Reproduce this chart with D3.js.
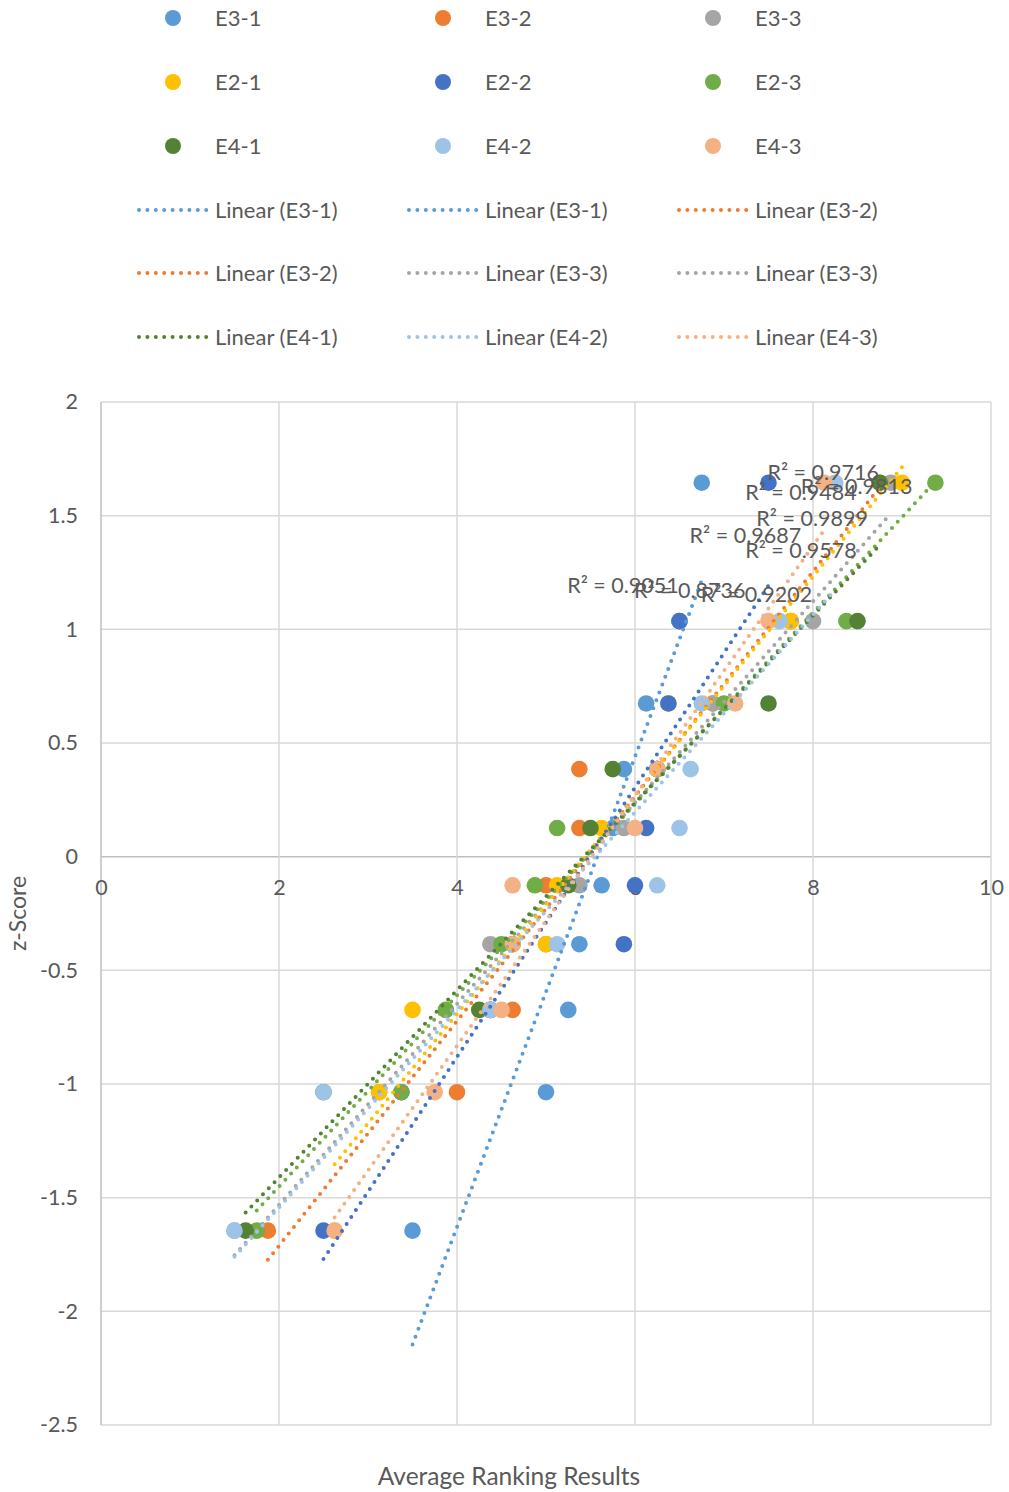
<!DOCTYPE html>
<html>
<head>
<meta charset="utf-8">
<script src="https://cdn.jsdelivr.net/npm/d3@7"></script>
<style>
  html, body { margin: 0; padding: 0; background: #ffffff; }
  svg { display: block; }
  text { font-family: Lato, "Open Sans", sans-serif; fill: #595959; }
</style>
</head>
<body>
<svg id="chart" width="1009" height="1492"></svg>
<script>
// z-scores shared by every series (normal quantiles for 10 ranks)
const zScores = [1.645, 1.036, 0.674, 0.385, 0.126, -0.126, -0.385, -0.674, -1.036, -1.645];

// Average ranking results per series, in the order of zScores
const e3_1 = [6.75, 6.5, 6.125, 5.875, 5.75, 5.625, 5.375, 5.25, 5.0, 3.5];
const e3_2 = [8.75, 7.75, 6.875, 5.375, 5.375, 5.0, 5.0, 4.625, 4.0, 1.875];
const e3_3 = [8.875, 8.0, 6.875, 6.25, 5.875, 5.375, 4.375, 4.375, 3.125, 1.5];
const e2_1 = [9.0, 7.75, 6.375, 6.25, 5.625, 5.125, 5.0, 3.5, 3.125, 2.625];
const e2_2 = [7.5, 6.5, 6.375, 6.25, 6.125, 6.0, 5.875, 4.375, 3.375, 2.5];
const e2_3 = [9.375, 8.375, 7.0, 6.25, 5.125, 4.875, 4.5, 3.875, 3.375, 1.75];
const e4_1 = [8.75, 8.5, 7.5, 5.75, 5.5, 5.25, 4.625, 4.25, 2.5, 1.625];
const e4_2 = [8.25, 7.625, 6.75, 6.625, 6.5, 6.25, 5.125, 4.375, 2.5, 1.5];
const e4_3 = [8.125, 7.5, 7.125, 6.25, 6.0, 4.625, 4.625, 4.5, 3.75, 2.625];

const seriesNames = ["E3-1", "E3-2", "E3-3", "E2-1", "E2-2", "E2-3", "E4-1", "E4-2", "E4-3"];
const seriesValues = [e3_1, e3_2, e3_3, e2_1, e2_2, e2_3, e4_1, e4_2, e4_3];
const seriesColors = ["#5B9BD5", "#ED7D31", "#A5A5A5", "#FFC000", "#4472C4", "#70AD47", "#548235", "#9DC3E6", "#F4B183"];

// Coefficient of determination shown for each trendline
const rSquared = [0.9051, 0.9484, 0.9899, 0.9716, 0.8736, 0.9813, 0.9578, 0.9202, 0.9687];

// Trendline legend entries as they are named in the workbook
const trendLegendNames = ["Linear (E3-1)", "Linear (E3-1)", "Linear (E3-2)",
                          "Linear (E3-2)", "Linear (E3-3)", "Linear (E3-3)",
                          "Linear (E4-1)", "Linear (E4-2)", "Linear (E4-3)"];
const trendLegendColors = ["#5B9BD5", "#5B9BD5", "#ED7D31",
                           "#ED7D31", "#A5A5A5", "#A5A5A5",
                           "#548235", "#9DC3E6", "#F4B183"];

const xTicks = [0, 2, 4, 6, 8, 10];
const yTicks = [2, 1.5, 1, 0.5, 0, -0.5, -1, -1.5, -2, -2.5];
const xTitle = "Average Ranking Results";
const yTitle = "z-Score";

// ---- layout ----
const plot = { left: 101, right: 991, top: 402, bottom: 1425 };
const svg = d3.select("#chart");

const x = d3.scaleLinear().domain([0, 10]).range([plot.left, plot.right]);
const y = d3.scaleLinear().domain([-2.5, 2]).range([plot.bottom, plot.top]);

// gridlines
const grid = svg.append("g");
grid.selectAll("line.h").data(yTicks).join("line")
  .attr("x1", plot.left).attr("x2", plot.right)
  .attr("y1", d => y(d)).attr("y2", d => y(d))
  .attr("stroke", d => d === 0 ? "#bfbfbf" : "#d9d9d9")
  .attr("stroke-width", 1.5);
grid.selectAll("line.v").data(xTicks).join("line")
  .attr("x1", d => x(d)).attr("x2", d => x(d))
  .attr("y1", plot.top).attr("y2", plot.bottom)
  .attr("stroke", d => d === 0 ? "#bfbfbf" : "#d9d9d9")
  .attr("stroke-width", 1.5);

// axes (labels only; the lines come from the grid)
const yAxis = d3.axisLeft(y).tickValues(yTicks).tickSize(0).tickPadding(23).tickFormat(d => String(d));
svg.append("g").attr("transform", `translate(${plot.left},0)`).call(yAxis)
  .call(g => g.select(".domain").remove())
  .selectAll("text").style("font-size", "21.5px").attr("fill", "#595959").style("font-family", "Lato, sans-serif");

const xAxis = d3.axisBottom(x).tickValues(xTicks).tickSize(0).tickPadding(23).tickFormat(d => String(d));
svg.append("g").attr("transform", `translate(0,${y(0)})`).call(xAxis)
  .call(g => g.select(".domain").remove())
  .selectAll("text").style("font-size", "21.5px").attr("fill", "#595959").style("font-family", "Lato, sans-serif");

// axis titles
svg.append("text").attr("x", 509).attr("y", 1485)
  .attr("text-anchor", "middle").style("font-size", "24.5px").text(xTitle);
svg.append("text")
  .attr("transform", `translate(26,${(plot.top + plot.bottom) / 2}) rotate(-90)`)
  .attr("text-anchor", "middle").style("font-size", "23px").text(yTitle);

// ---- data ----
const series = seriesNames.map((name, i) => ({
  name,
  color: seriesColors[i],
  r2: rSquared[i],
  points: seriesValues[i].map((v, j) => ({ x: v, z: zScores[j] }))
}));

// least-squares fit of z on x
function fit(points) {
  const mx = d3.mean(points, p => p.x), mz = d3.mean(points, p => p.z);
  const sxz = d3.sum(points, p => (p.x - mx) * (p.z - mz));
  const sxx = d3.sum(points, p => (p.x - mx) * (p.x - mx));
  const b = sxz / sxx, a = mz - b * mx;
  const [x0, x1] = d3.extent(points, p => p.x);
  return { a, b, x0, x1 };
}
series.forEach(s => { s.fit = fit(s.points); });

// markers
const marks = svg.append("g");
series.forEach(s => {
  marks.append("g").selectAll("circle").data(s.points).join("circle")
    .attr("cx", p => x(p.x)).attr("cy", p => y(p.z)).attr("r", 8.3)
    .attr("fill", s.color);
});

// dotted trendlines
const lines = svg.append("g");
const line = d3.line().x(p => x(p[0])).y(p => y(p[1]));
series.forEach(s => {
  const f = s.fit;
  lines.append("path")
    .attr("d", line([[f.x0, f.a + f.b * f.x0], [f.x1, f.a + f.b * f.x1]]))
    .attr("fill", "none").attr("stroke", s.color)
    .attr("stroke-width", 4).attr("stroke-linecap", "round")
    .attr("stroke-dasharray", "0 8.4");
});

// R² labels next to the upper end of each trendline
const labels = svg.append("g");
series.forEach(s => {
  const f = s.fit;
  labels.append("text")
    .attr("x", x(f.x1) - 23).attr("y", y(f.a + f.b * f.x1) + 5)
    .attr("dy", "0.35em").attr("text-anchor", "end")
    .style("font-size", "21.5px")
    .text(`R² = ${s.r2.toFixed(4)}`);
});

// ---- legend ----
const legCols = [137, 407, 677];
const legRowY = [18, 82, 146, 210, 273, 337];
const legend = svg.append("g");
series.forEach((s, i) => {
  const cx = legCols[i % 3], cy = legRowY[Math.floor(i / 3)];
  legend.append("circle").attr("cx", cx + 36).attr("cy", cy).attr("r", 8).attr("fill", s.color);
  legend.append("text").attr("x", cx + 78).attr("y", cy).attr("dy", "0.35em")
    .style("font-size", "22px").text(s.name);
});
trendLegendNames.forEach((name, i) => {
  const lx = legCols[i % 3], ly = legRowY[3 + Math.floor(i / 3)];
  legend.append("line").attr("x1", lx + 2).attr("x2", lx + 72).attr("y1", ly).attr("y2", ly)
    .attr("stroke", trendLegendColors[i]).attr("stroke-width", 4)
    .attr("stroke-linecap", "round").attr("stroke-dasharray", "0 8.4");
  legend.append("text").attr("x", lx + 78).attr("y", ly).attr("dy", "0.35em")
    .style("font-size", "22px").text(name);
});
</script>
</body>
</html>
